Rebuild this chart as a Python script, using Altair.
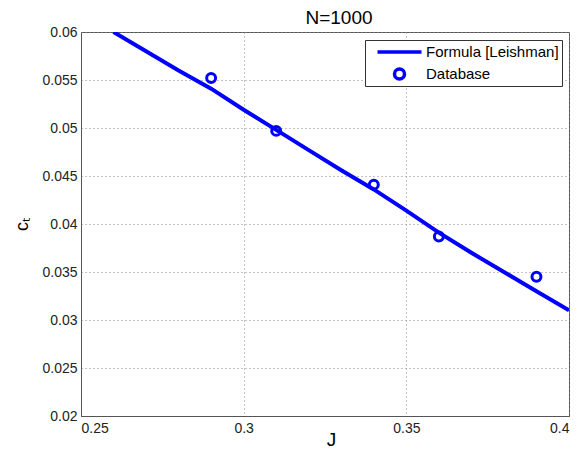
import altair as alt
import pandas as pd

line_J = [0.26, 0.27, 0.28, 0.29, 0.30, 0.31, 0.32, 0.33, 0.34, 0.35, 0.36, 0.37, 0.38, 0.39, 0.40]
line_ct = [0.0600, 0.0580, 0.0560, 0.0541, 0.0519, 0.0498, 0.0477, 0.0456, 0.0436, 0.0414, 0.0391, 0.0370, 0.0350, 0.0330, 0.0310]

db_J = [0.29, 0.31, 0.34, 0.36, 0.39]
db_ct = [0.0552, 0.0497, 0.0441, 0.0387, 0.0345]

series_names = ["Formula [Leishman]", "Database"]
x_ticks = [0.25, 0.3, 0.35, 0.4]
y_ticks = [0.02, 0.025, 0.03, 0.035, 0.04, 0.045, 0.05, 0.055, 0.06]

line_df = pd.DataFrame({"J": line_J, "ct": line_ct, "series": series_names[0]})
db_df = pd.DataFrame({"J": db_J, "ct": db_ct, "series": series_names[1]})

FONT = "Liberation Sans"
BLUE = "#0000ff"

x_enc = alt.X("J:Q", scale=alt.Scale(domain=[0.25, 0.4], nice=False, zero=False),
              axis=alt.Axis(title="J", values=x_ticks, format="~g", titleX=250, titleY=29,
                            titleBaseline="alphabetic", titleFontSize=19))
y_enc = alt.Y("ct:Q", scale=alt.Scale(domain=[0.02, 0.06], nice=False, zero=False),
              axis=alt.Axis(title="cₜ", values=y_ticks, format="~g"))

line = alt.Chart(line_df).mark_line(color=BLUE, strokeWidth=4, clip=True).encode(x=x_enc, y=y_enc)

points = alt.Chart(db_df).mark_point(filled=False, color=BLUE, strokeWidth=3, size=80, opacity=1).encode(
    x=x_enc,
    y=y_enc,
    shape=alt.Shape("series:N",
                    scale=alt.Scale(domain=series_names, range=["M-4.4,0L4.4,0", "circle"]),
                    legend=alt.Legend(title=None, orient="none", legendX=284, legendY=8,
                                      symbolSize=100, symbolStrokeWidth=3.5, symbolStrokeColor=BLUE,
                                      labelFontSize=15, labelFont=FONT, labelColor="#000",
                                      strokeColor="#333", fillColor="white", padding=3,
                                      rowPadding=4, clipHeight=18, symbolOffset=24, labelOffset=19)),
)

chart = (line + points).properties(
    width=488, height=384,
    title=alt.TitleParams("N=1000", fontSize=19, font=FONT, fontWeight="normal", color="#000",
                          offset=0, dx=14, dy=3),
    padding={"left": 73, "top": 24, "right": 10, "bottom": 33},
    autosize=alt.AutoSizeParams(type="none"),
).configure_view(stroke="#555", strokeWidth=1).configure_axis(
    labelFont=FONT, labelFontSize=14, labelColor="#222",
    titleFont=FONT, titleFontSize=18, titleFontWeight="normal", titleColor="#000",
    grid=True, gridColor="#888", gridDash=[1, 3], gridWidth=1,
    domainColor="#555", tickSize=0, labelPadding=4,
).configure_axisX(labelPadding=5).configure_axisY(titlePadding=10)

chart.save("out.html", embed_options={"renderer": "svg", "actions": False})
